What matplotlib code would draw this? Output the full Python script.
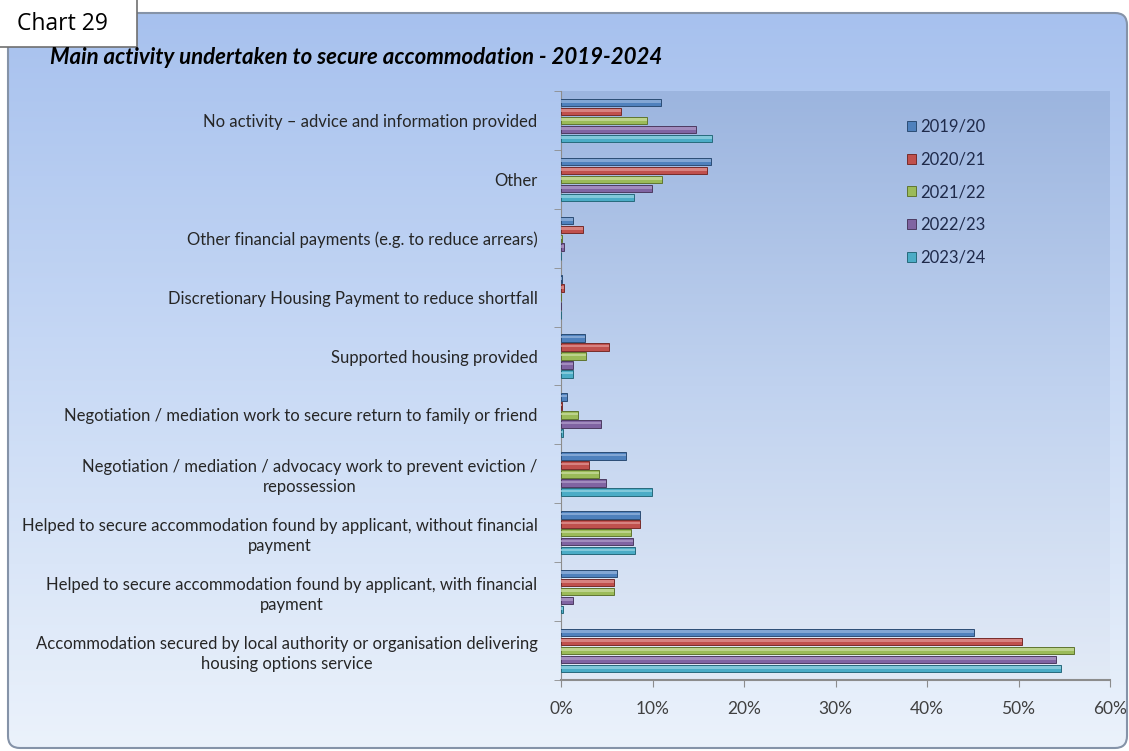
import numpy as np
import matplotlib.pyplot as plt
from matplotlib.patches import FancyBboxPatch, Rectangle
from matplotlib.colors import LinearSegmentedColormap

plt.rcParams['font.family'] = ['Lato', 'DejaVu Sans']

# categories, top to bottom
categorias = [
    "No activity \u2013 advice and information provided",
    "Other",
    "Other financial payments (e.g. to reduce arrears)",
    "Discretionary Housing Payment to reduce shortfall",
    "Supported housing provided",
    "Negotiation / mediation work to secure return to family or friend",
    "Negotiation / mediation / advocacy work to prevent eviction /\nrepossession",
    "Helped to secure accommodation found by applicant, without financial\npayment",
    "Helped to secure accommodation found by applicant, with financial\npayment",
    "Accommodation secured by local authority or organisation delivering\nhousing options service",
]

anios = ["2019/20", "2020/21", "2021/22", "2022/23", "2023/24"]

# percentage of cases per year
v_2019 = [10.9, 16.4, 1.3, 0.1, 2.6, 0.7, 7.1, 8.6, 6.1, 45.1]
v_2020 = [6.6, 16.0, 2.4, 0.35, 5.2, 0.1, 3.1, 8.6, 5.8, 50.4]
v_2021 = [9.4, 11.0, 0.1, 0.0, 2.7, 1.9, 4.2, 7.7, 5.8, 56.1]
v_2022 = [14.8, 9.9, 0.3, 0.0, 1.3, 4.4, 4.9, 7.9, 1.3, 54.1]
v_2023 = [16.5, 8.0, 0.05, 0.0, 1.3, 0.2, 9.9, 8.1, 0.2, 54.6]
valores = [v_2019, v_2020, v_2021, v_2022, v_2023]

colores = ["#4f81bd", "#c0504d", "#9bbb59", "#8064a2", "#4bacc6"]
bordes = ["#2c4d75", "#772c2a", "#5f7530", "#4d3b62", "#276a7c"]
brillos = ["#8fb0da", "#dd8f8d", "#c5da9a", "#ab97c6", "#8fd0e0"]

W, H = 1129, 751
fig = plt.figure(figsize=(W / 100, H / 100), dpi=100)

# background: rounded panel with vertical gradient
fondo = fig.add_axes([0, 0, 1, 1], zorder=0)
fondo.set_xlim(0, W)
fondo.set_ylim(H, 0)
fondo.axis("off")

grad = np.linspace(0, 1, 256).reshape(-1, 1)
cmap_fondo = LinearSegmentedColormap.from_list("fondo", ["#a7c1ee", "#c9daf5", "#ebf2fb"])
img = fondo.imshow(grad, cmap=cmap_fondo, extent=[8, 1127, 748, 13], aspect="auto", zorder=0)
caja = FancyBboxPatch((8, 13), 1119, 735, boxstyle="round,pad=0,rounding_size=12",
                      facecolor="none", edgecolor="#8593a8", linewidth=1.5, zorder=2)
fondo.add_patch(caja)
img.set_clip_path(caja)

# plot area gradient
cmap_area = LinearSegmentedColormap.from_list("area", ["#9cb5df", "#c0d2ef", "#e2eaf6"])
fondo.imshow(grad, cmap=cmap_area, extent=[561, 1110, 680, 91], aspect="auto", zorder=1)

# "Chart 29" tag in the corner
fondo.add_patch(Rectangle((-5, -5), 142, 52, facecolor="white", edgecolor="#6f6f6f",
                          linewidth=1.2, zorder=3))
fondo.text(17, 24, "Chart 29", fontsize=16.5, va="center", ha="left", color="black", zorder=4,
           family=["Open Sans", "DejaVu Sans"])

fondo.text(50, 58, "Main activity undertaken to secure accommodation - 2019-2024",
           fontsize=16, fontweight="bold", fontstyle="italic", va="center", ha="left",
           color="black", zorder=4)

# main chart
ax = fig.add_axes([561 / W, 1 - 680 / H, (1110 - 561) / W, (680 - 91) / H], zorder=1)
ax.set_facecolor("none")

y = np.arange(len(categorias))
paso = 9 / 59
alto = 7.5 / 59
handles = []
for j, (serie, c, b, br) in enumerate(zip(valores, colores, bordes, brillos)):
    pos = y + (j - 2) * paso
    h = ax.barh(pos, serie, height=alto, color=c, edgecolor=b, linewidth=0.7, zorder=3)
    # light stripe for the bevel look
    ax.barh(pos - alto * 0.12, serie, height=alto * 0.35, color=br, linewidth=0,
            alpha=0.8, zorder=4)
    handles.append(h)

ax.set_xlim(0, 60)
ax.set_ylim(len(categorias) - 0.5, -0.5)
ax.set_xticks(np.arange(0, 61, 10))
ax.set_xticklabels(["%d%%" % t for t in range(0, 61, 10)])
ax.set_yticks(y)
ax.set_yticklabels(categorias)
ax.set_yticks(np.arange(-0.5, len(categorias)), minor=True)

for t in ax.get_yticklabels():
    t.set_multialignment("center")
    t.set_linespacing(1.3)

ax.tick_params(axis="y", which="major", length=0, pad=17, labelsize=12, labelcolor="#262626")
ax.tick_params(axis="y", which="minor", length=5, direction="out", color="#8c8c8c")
ax.tick_params(axis="x", length=5, direction="out", color="#8c8c8c", pad=10,
               labelsize=12.5, labelcolor="#404040")

for lado in ["top", "right"]:
    ax.spines[lado].set_visible(False)
ax.spines["left"].set_color("#8c8c8c")
ax.spines["bottom"].set_color("#8c8c8c")
ax.spines["bottom"].set_linewidth(1.5)

leg = ax.legend(handles, anios, loc="upper left", bbox_to_anchor=(892 / W, 1 - 104 / H),
                bbox_transform=fig.transFigure, frameon=False, fontsize=12,
                handlelength=0.55, handleheight=0.55, handletextpad=0.25, labelspacing=1.0)
for t in leg.get_texts():
    t.set_color("#1f2a4a")

fig.savefig("out.png", dpi=100)
